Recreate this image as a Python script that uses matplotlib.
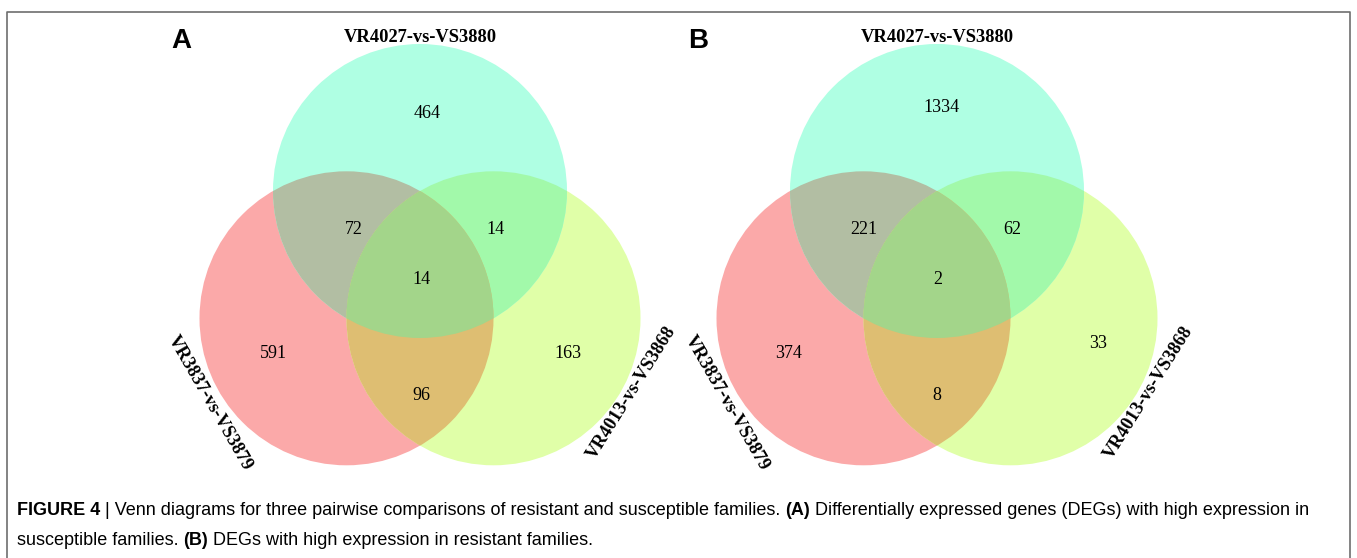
import numpy as np
import matplotlib.pyplot as plt
from matplotlib.patches import Circle, Polygon
from matplotlib import font_manager

# nombres de los conjuntos y conteos por region
set_names = ["VR4027-vs-VS3880", "VR3837-vs-VS3879", "VR4013-vs-VS3868"]
regions = ["top", "left", "right", "top_left", "top_right", "left_right", "all"]
counts_a = [464, 591, 163, 72, 14, 96, 14]
counts_b = [1334, 374, 33, 221, 62, 8, 2]
panel_letters = ["A", "B"]

caption_1 = [("FIGURE 4", True), (" | Venn diagrams for three pairwise comparisons of resistant and susceptible families. ", False),
             ("(A)", True), (" Differentially expressed genes (DEGs) with high expression in", False)]
caption_2 = [("susceptible families. ", False), ("(B)", True), (" DEGs with high expression in resistant families.", False)]

# colores de cada region
region_colors = {"top": "#AFFFE3", "left": "#FBA9A9", "right": "#E0FFA8",
                 "top_left": "#B2BEA3", "top_right": "#A2F9AA", "left_right": "#DEBE72",
                 "all": "#A3D58A"}

available = {f.name for f in font_manager.fontManager.ttflist}
narrow = "Liberation Sans Narrow" if "Liberation Sans Narrow" in available else "Liberation Sans"
serif = "Liberation Serif"

W, H = 1357, 558
fig = plt.figure(figsize=(W / 100, H / 100), dpi=100)
ax = fig.add_axes([0, 0, 1, 1])
ax.set_xlim(0, W)
ax.set_ylim(H, 0)
ax.axis("off")

# marco
ax.plot([7, 7, 1350, 1350], [558, 12, 12, 558], color="#6e6e6e", lw=1.2, solid_capstyle="butt")

R = 147


def lens(c1, c2, r, n=400):
    t = np.linspace(0, 2 * np.pi, n)
    pts = []
    for a, b in [(c1, c2), (c2, c1)]:
        p = np.c_[a[0] + r * np.cos(t), a[1] + r * np.sin(t)]
        inside = np.hypot(p[:, 0] - b[0], p[:, 1] - b[1]) <= r
        pts.append(p[inside])
    pts = np.vstack(pts)
    m = pts.mean(axis=0)
    order = np.argsort(np.arctan2(pts[:, 1] - m[1], pts[:, 0] - m[0]))
    return pts[order]


def venn(cx, cy, counts, offsets, letter):
    side = R * 1.0
    c_top = (cx, cy)
    c_left = (cx - side / 2, cy + side * np.sqrt(3) / 2)
    c_right = (cx + side / 2, cy + side * np.sqrt(3) / 2)
    circ = {"top": c_top, "left": c_left, "right": c_right}

    for k in ["left", "right", "top"]:
        ax.add_patch(Circle(circ[k], R, facecolor=region_colors[k], edgecolor="none"))

    def clipped(a, b, color):
        clip = Circle(circ[b], R, transform=ax.transData)
        p = Circle(circ[a], R, facecolor=color, edgecolor="none")
        ax.add_patch(p)
        p.set_clip_path(clip)

    clipped("top", "left", region_colors["top_left"])
    clipped("top", "right", region_colors["top_right"])
    clipped("left", "right", region_colors["left_right"])

    clip = Polygon(lens(c_left, c_right, R), closed=True, transform=ax.transData)
    p = Circle(c_top, R, facecolor=region_colors["all"], edgecolor="none")
    ax.add_patch(p)
    p.set_clip_path(clip)

    for val, (dx, dy) in zip(counts, offsets):
        ax.text(cx + dx, cy + dy, str(val), ha="center", va="center", family=serif, fontsize=13)

    ax.text(cx, cy - 154, set_names[0], ha="center", va="center", family=serif, weight="bold", fontsize=13.3)
    ax.text(cx - 210, cy + 212, set_names[1], ha="center", va="center", family=serif, weight="bold",
            fontsize=13.3, rotation=-60, rotation_mode="anchor")
    ax.text(cx + 212, cy + 202, set_names[2], ha="center", va="center", family=serif, weight="bold",
            fontsize=13.3, rotation=58, rotation_mode="anchor")
    ax.text(cx - 239, cy - 150, letter, ha="center", va="center", family=narrow, weight="bold", fontsize=20)


offsets_a = [(7, -78), (-147, 162), (148, 162), (-66, 39), (75, 39), (1, 204), (1, 88)]
offsets_b = [(4, -84), (-148, 162), (161, 152), (-73, 39), (75, 39), (0, 204), (1, 88)]

venn(420, 191, counts_a, offsets_a, panel_letters[0])
venn(937, 191, counts_b, offsets_b, panel_letters[1])


def caption(parts, y):
    prev = None
    for txt, bold in parts:
        kw = dict(family=narrow, fontsize=13, weight="bold" if bold else "normal", ha="left")
        if prev is None:
            prev = ax.text(17, y, txt, va="baseline", **kw)
        else:
            prev = ax.annotate(txt, xy=(1, 0), xycoords=prev, xytext=(0, 0), textcoords="offset points",
                               va="bottom", **kw)


caption(caption_1, 515)
caption(caption_2, 545)

fig.savefig("out.png", dpi=100)
